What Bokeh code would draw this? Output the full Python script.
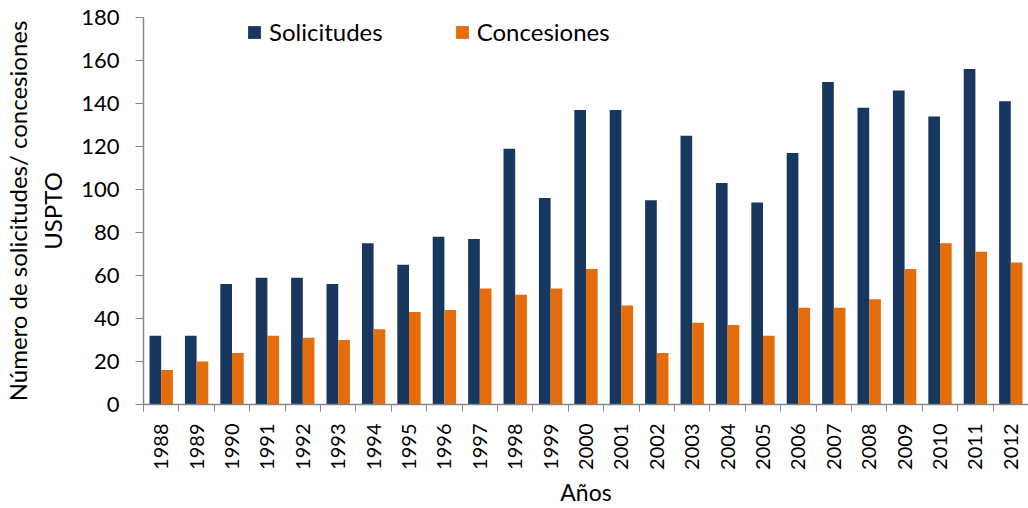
import numpy as np
from bokeh.plotting import figure
from bokeh.models import ColumnDataSource, FixedTicker, Range1d, Legend, LegendItem
from bokeh.transform import dodge
from bokeh.embed import file_html
from bokeh.resources import INLINE

years = ["1988", "1989", "1990", "1991", "1992", "1993", "1994", "1995", "1996", "1997",
         "1998", "1999", "2000", "2001", "2002", "2003", "2004", "2005", "2006", "2007",
         "2008", "2009", "2010", "2011", "2012"]
solicitudes = [32, 32, 56, 59, 59, 56, 75, 65, 78, 77, 119, 96, 137, 137, 95, 125, 103, 94,
               117, 150, 138, 146, 134, 156, 141]
concesiones = [16, 20, 24, 32, 31, 30, 35, 43, 44, 54, 51, 54, 63, 46, 24, 38, 37, 32,
               45, 45, 49, 63, 75, 71, 66]
y_ticks = [0, 20, 40, 60, 80, 100, 120, 140, 160, 180]

FONT = "Lato"
DARK = "#17375E"
ORANGE = "#E46C0A"
AXIS = "#868686"

idx = list(range(len(years)))
src = ColumnDataSource(dict(x=idx, sol=solicitudes, con=concesiones))

p = figure(width=1028, height=508, output_backend="svg", toolbar_location=None,
           x_range=Range1d(-0.5, len(years) - 0.5), y_range=Range1d(0, 180),
           min_border_left=142, min_border_top=17, min_border_bottom=104, min_border_right=0)
p.outline_line_color = None
p.xgrid.grid_line_color = None
p.ygrid.grid_line_color = None
p.background_fill_color = "white"
p.border_fill_color = "white"

r1 = p.vbar(x=dodge("x", -0.165), top="sol", width=0.33, source=src,
            fill_color=DARK, line_color=None)
r2 = p.vbar(x=dodge("x", 0.165), top="con", width=0.33, source=src,
            fill_color=ORANGE, line_color=None)

# x axis
xa = p.xaxis[0]
xa.ticker = FixedTicker(ticks=idx, minor_ticks=[i - 0.5 for i in range(len(years) + 1)])
xa.major_label_overrides = {i: y for i, y in enumerate(years)}
xa.major_label_orientation = np.pi / 2
xa.major_tick_line_color = None
xa.major_tick_out = 7
xa.minor_tick_line_color = AXIS
xa.minor_tick_out = 7
xa.minor_tick_in = 0
xa.axis_line_color = AXIS
xa.axis_line_width = 1.5
xa.major_label_text_font = FONT
xa.major_label_text_font_size = "20px"
xa.major_label_text_color = "black"
xa.major_label_standoff = 12
xa.axis_label = "Años"
xa.axis_label_text_font = FONT
xa.axis_label_text_font_size = "23px"
xa.axis_label_text_font_style = "normal"
xa.axis_label_text_color = "black"
xa.axis_label_standoff = 5

# y axis
ya = p.yaxis[0]
ya.ticker = FixedTicker(ticks=y_ticks)
ya.minor_tick_line_color = None
ya.major_tick_line_color = AXIS
ya.major_tick_out = 8
ya.major_tick_in = 0
ya.axis_line_color = AXIS
ya.axis_line_width = 1.5
ya.major_label_text_font = FONT
ya.major_label_text_font_size = "22px"
ya.major_label_text_color = "black"
ya.major_label_standoff = 16
ya.axis_label = "Número de solicitudes/ concesiones\nUSPTO"
ya.axis_label_text_font = FONT
ya.axis_label_text_font_size = "24px"
ya.axis_label_text_font_style = "normal"
ya.axis_label_text_color = "black"
ya.axis_label_standoff = 11

legend = Legend(items=[LegendItem(label="Solicitudes", renderers=[r1]),
                       LegendItem(label="Concesiones", renderers=[r2])],
                orientation="horizontal", location=(103, 358),
                glyph_width=16, glyph_height=16, label_standoff=7, spacing=71,
                padding=3, margin=0, border_line_color=None, background_fill_alpha=0,
                label_text_font=FONT, label_text_font_size="24px", label_text_color="black")
p.add_layout(legend)

open("out.html", "w").write(file_html(p, INLINE))
